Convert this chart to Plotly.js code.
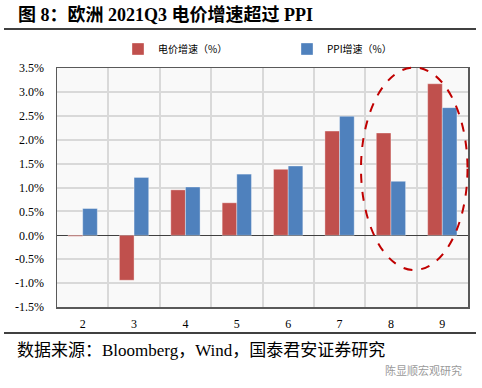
<!DOCTYPE html>
<html><head><meta charset="utf-8">
<script src="https://cdn.plot.ly/plotly-3.0.1.min.js"></script>
<style>html,body{margin:0;padding:0;background:#fff}#chart{width:482px;height:388px}</style>
</head><body><div id="chart"></div>
<script>
// Data
const months = ['2', '3', '4', '5', '6', '7', '8', '9'];
const elecGrowth = [-0.02, -0.94, 0.95, 0.68, 1.38, 2.18, 2.14, 3.17];
const ppiGrowth = [0.56, 1.21, 1.01, 1.28, 1.45, 2.49, 1.13, 2.67];
const seriesNames = ['电价增速（%）', 'PPI增速（%）'];
const yTicks = [-1.5, -1.0, -0.5, 0.0, 0.5, 1.0, 1.5, 2.0, 2.5, 3.0, 3.5];
const yTickText = yTicks.map(v => v.toFixed(1) + '%');
const titleText = '图 8：欧洲 2021Q3 电价增速超过 PPI';
const sourceText = '数据来源：Bloomberg，Wind，国泰君安证券研究';
const watermarkText = '陈显顺宏观研究';

const FONT = 'Liberation Serif, Noto Sans CJK SC, serif';
const CJK = 'Noto Sans CJK SC, Liberation Serif, sans-serif';
const RED = '#C0504D', BLUE = '#4F81BD';

const traces = [
  {type: 'bar', name: seriesNames[0], x: months, y: elecGrowth,
   marker: {color: RED, line: {color: 'rgba(255,255,255,0.35)', width: 1}}},
  {type: 'bar', name: seriesNames[1], x: months, y: ppiGrowth,
   marker: {color: BLUE, line: {color: 'rgba(255,255,255,0.35)', width: 1}}}
];

const L = 57, T = 68, PW = 411, PH = 239;
const px = x => (x - L) / PW;
const py = y => (T + PH - y) / PH;

const layout = {
  width: 482, height: 388,
  margin: {l: L, r: 482 - L - PW, t: T, b: 388 - T - PH, pad: 0},
  paper_bgcolor: '#ffffff', plot_bgcolor: '#f9f9f9',
  barmode: 'group', bargap: 0.43, bargroupgap: 0,
  font: {family: FONT, color: '#000'},
  showlegend: true,
  legend: {orientation: 'h', x: px(118), y: py(49), xanchor: 'left', yanchor: 'middle',
    font: {family: CJK, size: 10, color: '#000'}, entrywidth: 124, entrywidthmode: 'pixels',
    itemwidth: 30, bgcolor: 'rgba(0,0,0,0)', traceorder: 'normal'},
  xaxis: {type: 'category', tickson: 'boundaries', showgrid: true, gridcolor: '#d9d9d9', gridwidth: 2,
    showline: true, mirror: true, linecolor: '#595959', linewidth: 1.5, ticks: '',
    tickfont: {family: FONT, size: 12, color: '#000'}, ticklabelstandoff: 5, zeroline: false, fixedrange: true},
  yaxis: {range: [-1.5, 3.5], tickvals: yTicks, ticktext: yTickText, showgrid: true, gridcolor: '#d9d9d9', gridwidth: 2,
    zeroline: true, zerolinecolor: '#404040', zerolinewidth: 1.5,
    showline: true, mirror: true, linecolor: '#595959', linewidth: 1.5, ticks: '',
    tickfont: {family: FONT, size: 12, color: '#000'}, ticklabelstandoff: 9, fixedrange: true},
  shapes: [
    {type: 'line', xref: 'paper', yref: 'paper', x0: px(4), x1: px(476), y0: py(29), y1: py(29),
     line: {color: '#000', width: 1.5}},
    {type: 'line', xref: 'paper', yref: 'paper', x0: px(4), x1: px(476), y0: py(333), y1: py(333),
     line: {color: '#000', width: 1.5}},
    {type: 'circle', xref: 'paper', yref: 'paper', x0: px(361), x1: px(467.5), y0: py(270), y1: py(67.5),
     line: {color: '#C00000', width: 2, dash: 'dash'}}
  ],
  annotations: [
    {text: '<b>' + titleText + '</b>', xref: 'paper', yref: 'paper', x: px(16), y: py(15),
     xanchor: 'left', yanchor: 'middle', showarrow: false, font: {family: FONT, size: 18, color: '#000'}},
    {text: sourceText, xref: 'paper', yref: 'paper', x: px(15), y: py(350),
     xanchor: 'left', yanchor: 'middle', showarrow: false, font: {family: FONT, size: 17, color: '#000'}},
    {text: watermarkText, xref: 'paper', yref: 'paper', x: px(383), y: py(370),
     xanchor: 'left', yanchor: 'middle', showarrow: false, font: {family: CJK, size: 11, color: '#9a9a9a'}}
  ]
};

Plotly.newPlot('chart', traces, layout, {staticPlot: true, displayModeBar: false});
</script></body></html>
